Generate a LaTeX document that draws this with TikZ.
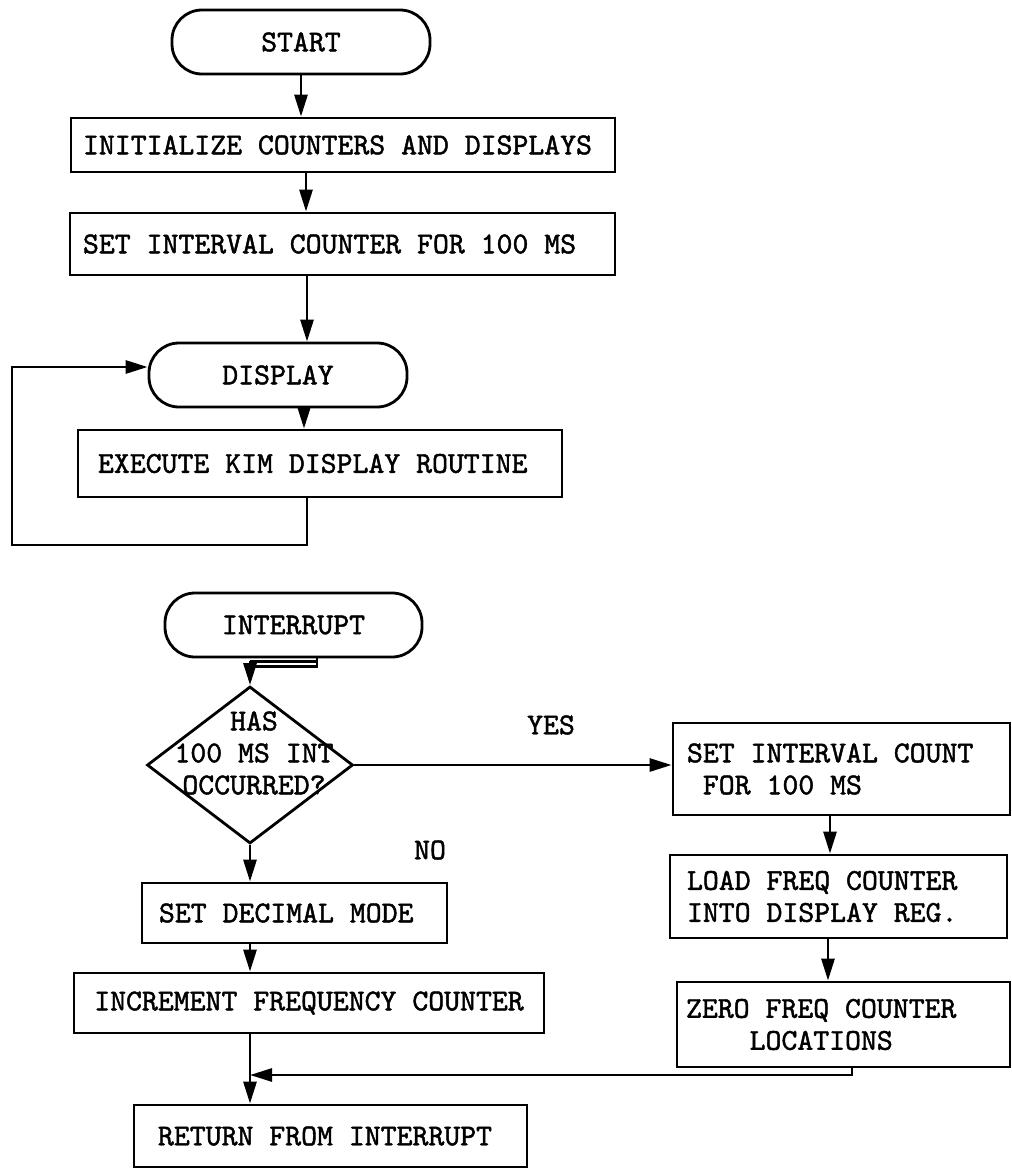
\documentclass[tikz,border=0pt]{standalone}
\usepackage{fontspec}
\setmonofont{lmmono10-regular.otf}[FakeBold=1.5]
\usetikzlibrary{arrows.meta,shapes.geometric}
\newcommand\monosp{\spaceskip=0pt\xspaceskip=0pt\relax}
\tikzset{
  ln/.style={line width=2.8pt, line join=miter},
  arr/.style={ln, -{Triangle[length=22pt,width=13pt]}},
  tt/.style={font=\ttfamily\fontsize{30.3}{32}\selectfont},
  pill/.style={draw, ln, tt, rounded corners=30pt, minimum height=64pt, inner sep=0pt},
  box/.style={draw, ln, tt, inner ysep=0pt, align=left},
  lbl/.style={tt, inner sep=0pt}
}
\begin{document}
\begin{tikzpicture}[x=1pt,y=-1pt]
\useasboundingbox (0,0) rectangle (1012,1170);
% ---- main routine ----
\node[pill, minimum width=258pt] (START) at (301,42) {START};
\node[box, minimum height=54pt, inner xsep=12pt, text width=520pt] (INIT) at (343,145) {\monosp INITIALIZE COUNTERS AND DISPLAYS};
\node[box, minimum height=62pt, inner xsep=13pt, text width=519pt] (SETINT) at (342.5,244) {\monosp SET INTERVAL COUNTER FOR 100 MS};
\node[pill, minimum width=258pt] (DISP) at (278,375) {DISPLAY};
\node[box, minimum height=67pt, inner xsep=20pt, text width=444pt] (EXEC) at (320,463.5) {\monosp EXECUTE KIM DISPLAY ROUTINE};
\coordinate (loopc) at (12,545);

\draw[arr] (START.south) -- (START.south |- INIT.north);
\draw[arr] ([xshift=-37pt]INIT.south) -- ([xshift=-37pt]INIT.south |- SETINT.north);
\draw[arr] ([xshift=-35.5pt]SETINT.south) -- ([xshift=-35.5pt]SETINT.south |- DISP.north);
\draw[arr] ([xshift=26pt]DISP.south) -- ([xshift=26pt]DISP.south |- EXEC.north);
\draw[arr] ([xshift=-13pt]EXEC.south) |- (loopc) |- ([yshift=8pt]DISP.west);

% ---- interrupt routine ----
\node[pill, minimum width=257pt] (INT) at (293.5,625) {INTERRUPT};
\node[draw, ln, shape=diamond, minimum width=206pt, minimum height=157pt, inner sep=0pt] (DEC) at (250,765) {};
\node[lbl, align=center] (DECT) at (254,753) {HAS\\100 MS INT\\OCCURRED?};
\coordinate (j1) at ([yshift=19pt]DEC.north);
\coordinate (j2) at ([yshift=24pt]DEC.north);
\draw[ln] ([xshift=23.5pt]INT.south) |- (j1);
\draw[ln] (j2) -| ([xshift=23.5pt]INT.south);
\draw[arr] (j2) -- (DEC.north);

\node[box, minimum height=92pt, inner xsep=14pt, text width=309pt] (SIC) at (841.5,769) {\monosp SET INTERVAL COUNT\\\hphantom{X}FOR 100 MS};
\node[box, minimum height=83pt, inner xsep=17pt, text width=303pt] (LOAD) at (838.5,896.5) {\monosp LOAD FREQ COUNTER\\INTO DISPLAY REG.};
\node[box, minimum height=85pt, inner xsep=9pt, text width=315pt] (ZERO) at (843.5,1024.5) {\monosp ZERO FREQ COUNTER\\\hphantom{XXXX}LOCATIONS};

\node[box, minimum height=60pt, inner xsep=17pt, text width=271pt] (SETDEC) at (294.5,913) {\monosp SET DECIMAL MODE};
\node[box, minimum height=60pt, inner xsep=20pt, text width=430pt, align=center] (INCR) at (309,1003) {\monosp INCREMENT FREQUENCY COUNTER};
\node[box, minimum height=62pt, inner xsep=24pt, text width=345pt] (RET) at (330.5,1136) {\monosp RETURN FROM INTERRUPT};

\node[lbl] (YES) at (551,725) {YES};
\node[lbl] (NO) at (430,850) {NO};

\draw[arr] (DEC.east) -- (DEC.east -| SIC.west);
\draw[arr] (DEC.south) -- (DEC.south |- SETDEC.north);
\draw[arr] ([xshift=-44.5pt]SETDEC.south) -- ([xshift=-44.5pt]SETDEC.south |- INCR.north);
\draw[arr] ([xshift=-59pt]INCR.south) -- ([xshift=-59pt]INCR.south |- RET.north);
\draw[arr] ([xshift=-11.5pt]SIC.south) -- ([xshift=-11.5pt]SIC.south |- LOAD.north);
\draw[arr] ([xshift=-10.5pt]LOAD.south) -- ([xshift=-10.5pt]LOAD.south |- ZERO.north);
\coordinate (merge) at ([xshift=-59pt]INCR.south |- 0,1075);
\draw[arr] ([xshift=8.5pt]ZERO.south) |- (merge);
\end{tikzpicture}
\end{document}
